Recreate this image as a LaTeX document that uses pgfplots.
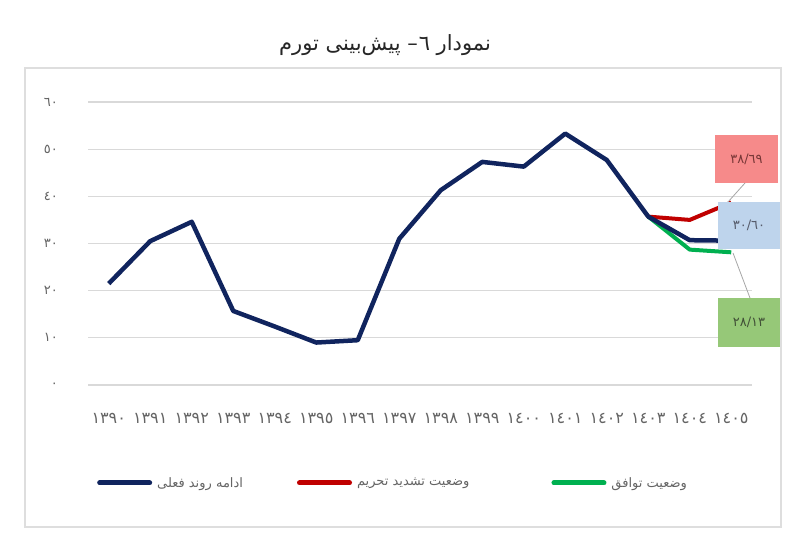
\documentclass[border=0pt]{standalone}
\usepackage{pgfplots}
\pgfplotsset{compat=1.18}
\usepackage{fontspec}
\setmainfont{Liberation Serif}
\newfontfamily\arabicfont[Script=Arabic]{DejaVu Sans}
\TeXXeTstate=1
\definecolor{navy}{RGB}{16,36,94}
\definecolor{cred}{RGB}{192,0,0}
\definecolor{cgreen}{RGB}{0,176,80}
\definecolor{gridc}{RGB}{217,217,217}
\definecolor{framec}{RGB}{222,222,222}
\definecolor{boxred}{RGB}{246,138,138}
\definecolor{boxblue}{RGB}{190,212,236}
\definecolor{boxgreen}{RGB}{150,200,120}
\definecolor{txtgray}{RGB}{100,100,100}
\begin{document}
\begin{tikzpicture}[x=1pt,y=1pt]
\path[use as bounding box] (0,0) rectangle (800,554);
\draw[framec, line width=1.5pt] (25,27) rectangle (781,486);
\node[font=\arabicfont\fontsize{21}{21}\selectfont, text=black!85] at (385,509)
  {\beginR نمودار ٦\kern1pt–\kern0pt{} پیش‌بینی تورم\endR};
\begin{axis}[
  at={(88pt,169pt)}, anchor=south west,
  width=664pt, height=283pt, scale only axis,
  xmin=-0.5, xmax=15.5, ymin=0, ymax=60,
  axis line style={draw=none},
  tick style={draw=none},
  ymajorgrids, grid style={gridc, line width=1.3pt},
  ytick={0,10,20,30,40,50,60},
  yticklabels={٠,١٠,٢٠,٣٠,٤٠,٥٠,٦٠},
  yticklabel style={anchor=east, inner sep=0pt, xshift=-30pt, text=txtgray,
    font=\arabicfont\fontsize{13}{13}\selectfont},
  xtick={0,1,2,3,4,5,6,7,8,9,10,11,12,13,14,15},
  xticklabels={١٣٩٠,١٣٩١,١٣٩٢,١٣٩٣,١٣٩٤,١٣٩٥,١٣٩٦,١٣٩٧,١٣٩٨,١٣٩٩,١٤٠٠,١٤٠١,١٤٠٢,١٤٠٣,١٤٠٤,١٤٠٥},
  xticklabel style={anchor=center, inner sep=0pt, yshift=-33pt, text=txtgray,
    font=\arabicfont\fontsize{16}{16}\selectfont},
  clip=false,
  legend columns=3,
  legend style={at={(0.009,-0.346)}, anchor=west, draw=none, fill=none,
    font=\arabicfont\fontsize{13}{13}\selectfont, text=txtgray,
    /tikz/every odd column/.append style={column sep=3pt},
    /tikz/column 2/.append style={column sep=52pt},
    /tikz/column 4/.append style={column sep=80pt}},
  legend image code/.code={\draw[#1, line width=5pt, line cap=round] (0pt,0pt) -- (50pt,0pt);},
]
\addplot[cred, line width=4pt, line join=round, forget plot] coordinates {(13,35.7) (14,35.0) (15,38.69)};
\addplot[cgreen, line width=4pt, line join=round, forget plot] coordinates {(13,35.7) (14,28.7) (15,28.13)};
\addplot[navy, line width=4.5pt, line join=round, forget plot] coordinates {
(0,21.5) (1,30.5) (2,34.6) (3,15.7) (4,12.4) (5,9.0) (6,9.5) (7,31.0)
(8,41.3) (9,47.3) (10,46.3) (11,53.3) (12,47.7) (13,35.7) (14,30.7) (15,30.6)};
\addlegendimage{navy}
\addlegendentry{\beginR ادامه روند فعلی\endR}
\addlegendimage{cred}
\addlegendentry{\beginR وضعیت تشدید تحریم\endR}
\addlegendimage{cgreen}
\addlegendentry{\beginR وضعیت توافق\endR}
\end{axis}
\draw[gray!70, line width=0.8pt] (745,371) -- (728,352);
\draw[gray!70, line width=0.8pt] (733,301) -- (750,256);
\node[fill=boxred, minimum width=63pt, minimum height=48pt, inner sep=0pt,
  text={rgb,255:red,120;green,55;blue,55}, font=\arabicfont\fontsize{13}{13}\selectfont] at (746.5,395) {٣٨/٦٩};
\node[fill=boxblue, minimum width=62pt, minimum height=47pt, inner sep=0pt,
  text={rgb,255:red,85;green,90;blue,105}, font=\arabicfont\fontsize{13}{13}\selectfont] at (749,328.5) {٣٠/٦٠};
\node[fill=boxgreen, minimum width=62pt, minimum height=49pt, inner sep=0pt,
  text={rgb,255:red,65;green,80;blue,55}, font=\arabicfont\fontsize{13}{13}\selectfont] at (749,231.5) {٢٨/١٣};
\end{tikzpicture}
\end{document}
